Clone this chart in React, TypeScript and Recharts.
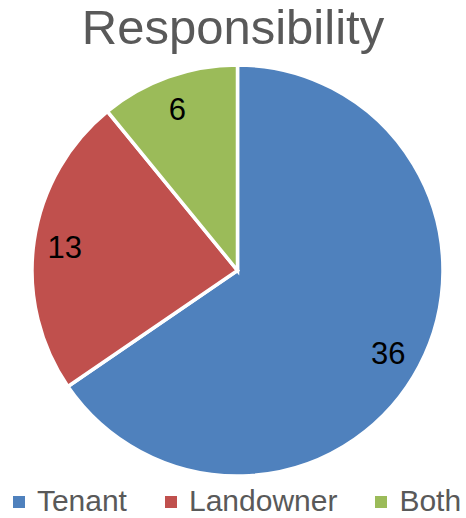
import React from 'react';
import { PieChart, Pie, Cell, Legend } from 'recharts';

const categories = ['Tenant', 'Landowner', 'Both'];
const values = [36, 13, 6];
const colors = ['#4F81BD', '#C0504D', '#9BBB59'];

const data = categories.map((name, i) => ({ name, value: values[i] }));

const FONT = '"Liberation Sans", Arial, sans-serif';
const RAD = Math.PI / 180;

const renderLabel = (props: any) => {
  const { cx, cy, midAngle, outerRadius, value } = props;
  const r = outerRadius * 0.84;
  const x = cx + r * Math.cos(-midAngle * RAD) - 2;
  const y = cy + r * Math.sin(-midAngle * RAD) + 2;
  return (
    <text x={x} y={y} fill="#000" textAnchor="middle" dominantBaseline="central" fontSize={31} fontFamily={FONT}>
      {value}
    </text>
  );
};

const renderLegend = () => (
  <div style={{ display: 'flex', justifyContent: 'center', alignItems: 'center', fontFamily: FONT, fontSize: 30, color: '#595959', lineHeight: '26px', height: 26, paddingLeft: 8, boxSizing: 'border-box' }}>
    {data.map((d, i) => (
      <div key={d.name} style={{ display: 'flex', alignItems: 'center', marginRight: i < data.length - 1 ? 38 : 0 }}>
        <span style={{ display: 'inline-block', width: 12, height: 12, background: colors[i], marginRight: 12, marginTop: 2 }} />
        <span>{d.name}</span>
      </div>
    ))}
  </div>
);

export default function App() {
  return (
    <div style={{ position: 'absolute', left: 0, top: 0, width: 466, height: 518, background: '#fff' }}>
      <div style={{ position: 'absolute', left: 0, top: -1, width: 466, textAlign: 'center', fontFamily: FONT, fontSize: 49, color: '#595959', lineHeight: '56px', zIndex: 1 }}>
        Responsibility
      </div>
      <PieChart width={466} height={518} margin={{ top: 0, right: 0, bottom: 0, left: 0 }}>
        <Pie
          data={data}
          dataKey="value"
          nameKey="name"
          cx={237.5}
          cy={270.5}
          outerRadius={205.5}
          startAngle={90}
          endAngle={-270}
          stroke="#fff"
          strokeWidth={3.5}
          label={renderLabel}
          labelLine={false}
          isAnimationActive={false}
        >
          {data.map((d, i) => (
            <Cell key={d.name} fill={colors[i]} />
          ))}
        </Pie>
        <Legend content={renderLegend} wrapperStyle={{ position: 'absolute', left: 0, top: 488, width: 466 }} />
      </PieChart>
    </div>
  );
}
